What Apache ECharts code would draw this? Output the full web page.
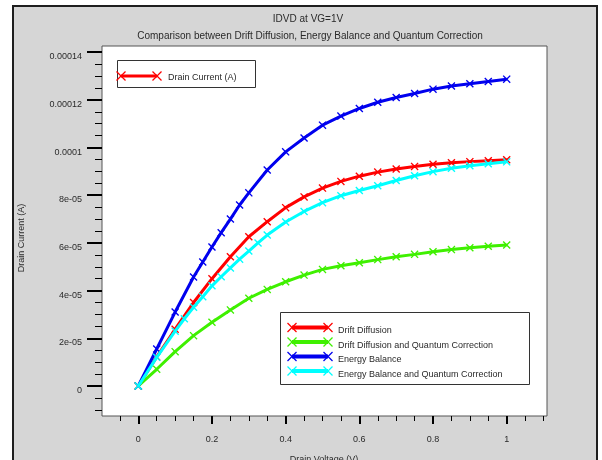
<!DOCTYPE html>
<html>
<head>
<meta charset="utf-8">
<script src="https://cdn.jsdelivr.net/npm/echarts@6/dist/echarts.min.js"></script>
<style>
  html, body { margin: 0; padding: 0; background: #ffffff; }
  #chart { width: 602px; height: 460px; }
</style>
</head>
<body>
<div id="chart"></div>
<script>
// Drain voltage sweeps (V) and drain currents (A) for each transport model
const ddV   = [0, 0.05, 0.1, 0.15, 0.2, 0.25, 0.3, 0.35, 0.4, 0.45, 0.5, 0.55, 0.6, 0.65, 0.7, 0.75, 0.8, 0.85, 0.9, 0.95, 1.0];
const ddI   = [0, 1.22e-5, 2.38e-5, 3.5e-5, 4.5e-5, 5.42e-5, 6.26e-5, 6.89e-5, 7.48e-5, 7.93e-5, 8.3e-5, 8.58e-5, 8.8e-5, 8.97e-5, 9.1e-5, 9.21e-5, 9.3e-5, 9.36e-5, 9.41e-5, 9.45e-5, 9.49e-5];

const ddqcV = [0, 0.05, 0.1, 0.15, 0.2, 0.25, 0.3, 0.35, 0.4, 0.45, 0.5, 0.55, 0.6, 0.65, 0.7, 0.75, 0.8, 0.85, 0.9, 0.95, 1.0];
const ddqcI = [0, 0.7e-5, 1.44e-5, 2.11e-5, 2.67e-5, 3.19e-5, 3.68e-5, 4.05e-5, 4.37e-5, 4.65e-5, 4.89e-5, 5.04e-5, 5.17e-5, 5.3e-5, 5.42e-5, 5.52e-5, 5.63e-5, 5.72e-5, 5.8e-5, 5.86e-5, 5.91e-5];

const ebV   = [0, 0.05, 0.1, 0.15, 0.175, 0.2, 0.225, 0.25, 0.275, 0.3, 0.35, 0.4, 0.45, 0.5, 0.55, 0.6, 0.65, 0.7, 0.75, 0.8, 0.85, 0.9, 0.95, 1.0];
const ebI   = [0, 1.55e-5, 3.1e-5, 4.57e-5, 5.2e-5, 5.83e-5, 6.43e-5, 7.0e-5, 7.59e-5, 8.1e-5, 9.06e-5, 9.82e-5, 10.4e-5, 10.94e-5, 11.32e-5, 11.64e-5, 11.9e-5, 12.1e-5, 12.27e-5, 12.45e-5, 12.58e-5, 12.68e-5, 12.77e-5, 12.87e-5];

const ebqcV = [0, 0.05, 0.1, 0.125, 0.15, 0.175, 0.2, 0.225, 0.25, 0.275, 0.3, 0.325, 0.35, 0.4, 0.45, 0.5, 0.55, 0.6, 0.65, 0.7, 0.75, 0.8, 0.85, 0.9, 0.95, 1.0];
const ebqcI = [0, 1.2e-5, 2.3e-5, 2.82e-5, 3.3e-5, 3.74e-5, 4.2e-5, 4.58e-5, 4.95e-5, 5.32e-5, 5.66e-5, 6.0e-5, 6.33e-5, 6.88e-5, 7.32e-5, 7.69e-5, 7.98e-5, 8.2e-5, 8.4e-5, 8.62e-5, 8.82e-5, 8.99e-5, 9.13e-5, 9.24e-5, 9.32e-5, 9.4e-5];

const seriesNames  = ['Drift Diffusion', 'Drift Diffusion and Quantum Correction', 'Energy Balance', 'Energy Balance and Quantum Correction'];
const seriesColors = ['#ff0000', '#3ff000', '#0000ee', '#00ffff'];

// Axis tick labels
const xTickValues = [0, 0.2, 0.4, 0.6, 0.8, 1];
const xTickLabels = ['0', '0.2', '0.4', '0.6', '0.8', '1'];
const yTickValues = [0, 2e-5, 4e-5, 6e-5, 8e-5, 1e-4, 1.2e-4, 1.4e-4];
const yTickLabels = ['0', '2e-05', '4e-05', '6e-05', '8e-05', '0.0001', '0.00012', '0.00014'];

const titleText    = 'IDVD at VG=1V';
const subtitleText = 'Comparison between Drift Diffusion, Energy Balance and Quantum Correction';
const xAxisName    = 'Drain Voltage (V)';
const yAxisName    = 'Drain Current (A)';
const topLegendText = 'Drain Current (A)';

const xMin = -0.0985, xMax = 1.1094;
const yMin = -1.26e-5, yMax = 14.26e-5;

// minor tick positions: every 0.05 V and every 0.5e-5 A
const xMinor = [];
for (let k = -1; k <= 22; k++) {
  const v = +(k * 0.05).toFixed(3);
  if (v > xMin && v < xMax && k % 4 !== 0) xMinor.push(v);
}
const yMinor = [];
for (let k = -2; k <= 28; k++) {
  const v = +(k * 0.5e-5).toPrecision(6);
  if (v > yMin && v < yMax && k % 4 !== 0) yMinor.push(v);
}

const FONT = '"Liberation Sans", Arial, sans-serif';
const TXT = '#2a2a2a';
// filled X-shaped marker
const crossPath = 'path://M0,1.2 L1.2,0 L5,3.8 L8.8,0 L10,1.2 L6.2,5 L10,8.8 L8.8,10 L5,6.2 L1.2,10 L0,8.8 L3.8,5 Z';

function pairs(xs, ys) { return xs.map((x, i) => [x, ys[i]]); }
const seriesData = [pairs(ddV, ddI), pairs(ddqcV, ddqcI), pairs(ebV, ebI), pairs(ebqcV, ebqcI)];

function labelFor(values, labels) {
  return function (v) {
    for (let i = 0; i < values.length; i++) {
      if (Math.abs(v - values[i]) < 1e-12) return labels[i];
    }
    return '';
  };
}

// legend sample: thick line with X marks at both ends
function legendSample(x1, x2, y, color, lw) {
  const s = 4.5;
  const cross = (cx) => [
    { type: 'line', shape: { x1: cx - s, y1: y - s, x2: cx + s, y2: y + s }, style: { stroke: color, lineWidth: 1.3 } },
    { type: 'line', shape: { x1: cx + s, y1: y - s, x2: cx - s, y2: y + s }, style: { stroke: color, lineWidth: 1.3 } }
  ];
  return [
    { type: 'line', shape: { x1: x1, y1: y, x2: x2, y2: y }, style: { stroke: color, lineWidth: lw } }
  ].concat(cross(x1), cross(x2));
}

const graphics = [];
// outer grey panel with dark frame
graphics.push({ type: 'rect', z: -10, shape: { x: 13, y: 6, width: 584, height: 470 },
  style: { fill: '#d6d6d6', stroke: '#1e1e1e', lineWidth: 2 } });
// titles
graphics.push({ type: 'text', x: 308, y: 19.5, style: { text: titleText, font: '10px ' + FONT, fill: TXT, textAlign: 'center', textVerticalAlign: 'middle' } });
graphics.push({ type: 'text', x: 310, y: 36.5, style: { text: subtitleText, font: '10px ' + FONT, fill: TXT, textAlign: 'center', textVerticalAlign: 'middle' } });
// axis names
graphics.push({ type: 'text', x: 22, y: 238, rotation: Math.PI / 2, style: { text: yAxisName, font: '9px ' + FONT, fill: TXT, textAlign: 'center', textVerticalAlign: 'middle' } });
graphics.push({ type: 'text', x: 324, y: 460, style: { text: xAxisName, font: '9px ' + FONT, fill: TXT, textAlign: 'center', textVerticalAlign: 'middle' } });

// upper-left legend box
graphics.push({ type: 'rect', z: 50, shape: { x: 117.5, y: 60.5, width: 138, height: 27 }, style: { fill: '#ffffff', stroke: '#333333', lineWidth: 1 } });
legendSample(121, 157, 76, '#ff0000', 3).forEach(g => { g.z = 51; graphics.push(g); });
graphics.push({ type: 'text', z: 51, x: 168, y: 78, style: { text: topLegendText, font: '9px ' + FONT, fill: TXT, textVerticalAlign: 'middle' } });

// lower-right legend box
graphics.push({ type: 'rect', z: 50, shape: { x: 280.5, y: 312.5, width: 249, height: 72 }, style: { fill: '#ffffff', stroke: '#333333', lineWidth: 1 } });
seriesNames.forEach((name, i) => {
  const ly = 327.5 + i * 14.5;
  legendSample(292, 328, ly, seriesColors[i], 4).forEach(g => { g.z = 51; graphics.push(g); });
  graphics.push({ type: 'text', z: 51, x: 338, y: ly + 3.5, style: { text: name, font: '9px ' + FONT, fill: TXT, textVerticalAlign: 'middle' } });
});

const noLine = { show: false, onZero: false };

const chart = echarts.init(document.getElementById('chart'), null, { renderer: 'canvas' });
chart.setOption({
  animation: false,
  backgroundColor: '#ffffff',
  grid: {
    left: 102, top: 46, right: 55, bottom: 44,
    show: true, backgroundColor: '#ffffff', borderColor: '#555555', borderWidth: 1,
    containLabel: false, outerBoundsMode: 'none'
  },
  xAxis: [
    {
      type: 'value', min: xMin, max: xMax, position: 'bottom',
      axisLine: noLine, splitLine: { show: false },
      axisTick: { show: true, inside: false, length: 8, customValues: xTickValues, lineStyle: { color: '#000', width: 2 } },
      axisLabel: { show: true, margin: 19, customValues: xTickValues, formatter: labelFor(xTickValues, xTickLabels), color: TXT, fontSize: 9, fontFamily: FONT }
    },
    {
      type: 'value', min: xMin, max: xMax, position: 'bottom',
      axisLine: noLine, splitLine: { show: false },
      axisTick: { show: true, inside: false, length: 5, customValues: xMinor, lineStyle: { color: '#000', width: 1 } },
      axisLabel: { show: false }
    }
  ],
  yAxis: [
    {
      type: 'value', min: yMin, max: yMax, position: 'left',
      axisLine: noLine, splitLine: { show: false },
      axisTick: { show: true, inside: false, length: 15, customValues: yTickValues, lineStyle: { color: '#000', width: 2 } },
      axisLabel: { show: true, margin: 20, verticalAlign: 'top', customValues: yTickValues, formatter: labelFor(yTickValues, yTickLabels), color: TXT, fontSize: 9, fontFamily: FONT }
    },
    {
      type: 'value', min: yMin, max: yMax, position: 'left',
      axisLine: noLine, splitLine: { show: false },
      axisTick: { show: true, inside: false, length: 7, customValues: yMinor, lineStyle: { color: '#000', width: 1 } },
      axisLabel: { show: false }
    }
  ],
  series: seriesData.map((d, i) => ({
    name: seriesNames[i],
    type: 'line',
    xAxisIndex: 0, yAxisIndex: 0,
    data: d,
    symbol: crossPath,
    symbolSize: 8,
    showSymbol: true,
    lineStyle: { color: seriesColors[i], width: 3 },
    itemStyle: { color: seriesColors[i] },
    emphasis: { disabled: true },
    z: 2 + i
  })),
  graphic: graphics
});
</script>
</body>
</html>
